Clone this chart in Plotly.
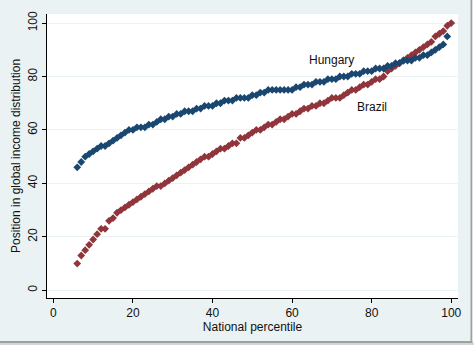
import plotly.graph_objects as go

# National percentiles
pct_hungary = list(range(6, 100))
pct_brazil = list(range(6, 101))

# Position in global income distribution
hungary = [46, 48, 50, 51, 52, 53, 54, 54, 55, 56, 57, 58, 59, 60, 60, 61, 61, 61, 62, 62,
           63, 64, 64, 65, 65, 66, 66, 67, 67, 67, 68, 68, 69, 69, 69, 70, 70, 71, 71, 71,
           72, 72, 72, 72, 73, 73, 74, 74, 75, 75, 75, 75, 75, 75, 75, 76, 76, 77, 77, 77,
           78, 78, 78, 79, 79, 79, 80, 80, 80, 81, 81, 81, 82, 82, 82, 83, 83, 83, 84, 84,
           85, 85, 86, 86, 86, 87, 87, 88, 88, 89, 90, 91, 92, 95]
brazil = [10, 13, 15, 17, 19, 21, 23, 23, 26, 27, 29, 30, 31, 32, 33, 34, 35, 36, 37, 38,
          39, 39, 40, 41, 42, 43, 44, 45, 46, 47, 48, 49, 50, 50, 51, 52, 53, 53, 54, 55,
          55, 57, 57, 58, 59, 60, 60, 61, 62, 62, 63, 64, 64, 65, 66, 66, 67, 68, 68, 69,
          69, 70, 70, 71, 72, 72, 72, 73, 74, 75, 75, 76, 77, 77, 78, 79, 79, 80, 82, 83,
          84, 85, 86, 87, 88, 89, 90, 91, 92, 93, 95, 96, 97, 99, 100]

x_ticks = [0, 20, 40, 60, 80, 100]
y_ticks = [0, 20, 40, 60, 80, 100]

NAVY = "#1a476f"
MAROON = "#90353b"
BG = "#eaf2f3"
FONT = "Liberation Sans, Arial, sans-serif"

fig = go.Figure()
fig.add_trace(go.Scatter(x=pct_brazil, y=brazil, mode="markers", name="Brazil",
                         marker=dict(symbol="diamond", size=6, color=MAROON, line=dict(width=0))))
fig.add_trace(go.Scatter(x=pct_hungary, y=hungary, mode="markers", name="Hungary",
                         marker=dict(symbol="diamond", size=6, color=NAVY, line=dict(width=0))))

fig.add_annotation(x=70, y=86, text="Hungary", showarrow=False,
                   font=dict(family=FONT, size=12, color="#111111"))
fig.add_annotation(x=80, y=68.5, text="Brazil", showarrow=False,
                   font=dict(family=FONT, size=12, color="#111111"))

L, R, T, B = 47, 16, 14, 51
W, H = 474, 349
pw, ph = W - L - R, H - T - B


def px_x(p):
    return (p - L) / pw


def px_y(p):
    return (H - B - p) / ph


shapes = [
    dict(type="rect", xref="paper", yref="paper", x0=px_x(-2), x1=px_x(476), y0=px_y(0), y1=px_y(-2),
         line=dict(width=0), fillcolor="#6e6e6e", layer="above"),
    dict(type="rect", xref="paper", yref="paper", x0=px_x(470.5), x1=px_x(472.5), y0=px_y(0), y1=px_y(343),
         line=dict(width=0), fillcolor="#a0a0a0", layer="above"),
    dict(type="rect", xref="paper", yref="paper", x0=px_x(472.5), x1=px_x(476), y0=px_y(-2), y1=px_y(351),
         line=dict(width=0), fillcolor="#ffffff", layer="above"),
    dict(type="rect", xref="paper", yref="paper", x0=px_x(-2), x1=px_x(472.5), y0=px_y(341), y1=px_y(343),
         line=dict(width=0), fillcolor="#a0a0a0", layer="above"),
    dict(type="rect", xref="paper", yref="paper", x0=px_x(-2), x1=px_x(476), y0=px_y(343), y1=px_y(345),
         line=dict(width=0), fillcolor="#d4d4d4", layer="above"),
    dict(type="rect", xref="paper", yref="paper", x0=px_x(-2), x1=px_x(476), y0=px_y(345), y1=px_y(351),
         line=dict(width=0), fillcolor="#ffffff", layer="above"),
]

fig.update_layout(
    width=W, height=H,
    margin=dict(l=L, r=R, t=T, b=B, pad=0),
    paper_bgcolor=BG, plot_bgcolor="white",
    showlegend=False,
    font=dict(family=FONT, size=12, color="#111111"),
    shapes=shapes,
    xaxis=dict(range=[-1.6, 101.7], tickvals=x_ticks, showgrid=False, zeroline=False,
               showline=True, linecolor="black", linewidth=1, ticks="outside", ticklen=4,
               tickcolor="black", tickfont=dict(size=12),
               title=dict(text="National percentile", standoff=0, font=dict(size=12))),
    yaxis=dict(range=[-2.9, 103.4], tickvals=y_ticks, showgrid=True, gridcolor=BG, gridwidth=1,
               zeroline=False, showline=True, linecolor="black", linewidth=1, ticks="outside",
               ticklen=4, tickcolor="black", tickangle=-90, tickfont=dict(size=12),
               title=dict(text="Position in global income distribution", standoff=3,
                          font=dict(size=12))),
)

fig.write_html("out.html")
